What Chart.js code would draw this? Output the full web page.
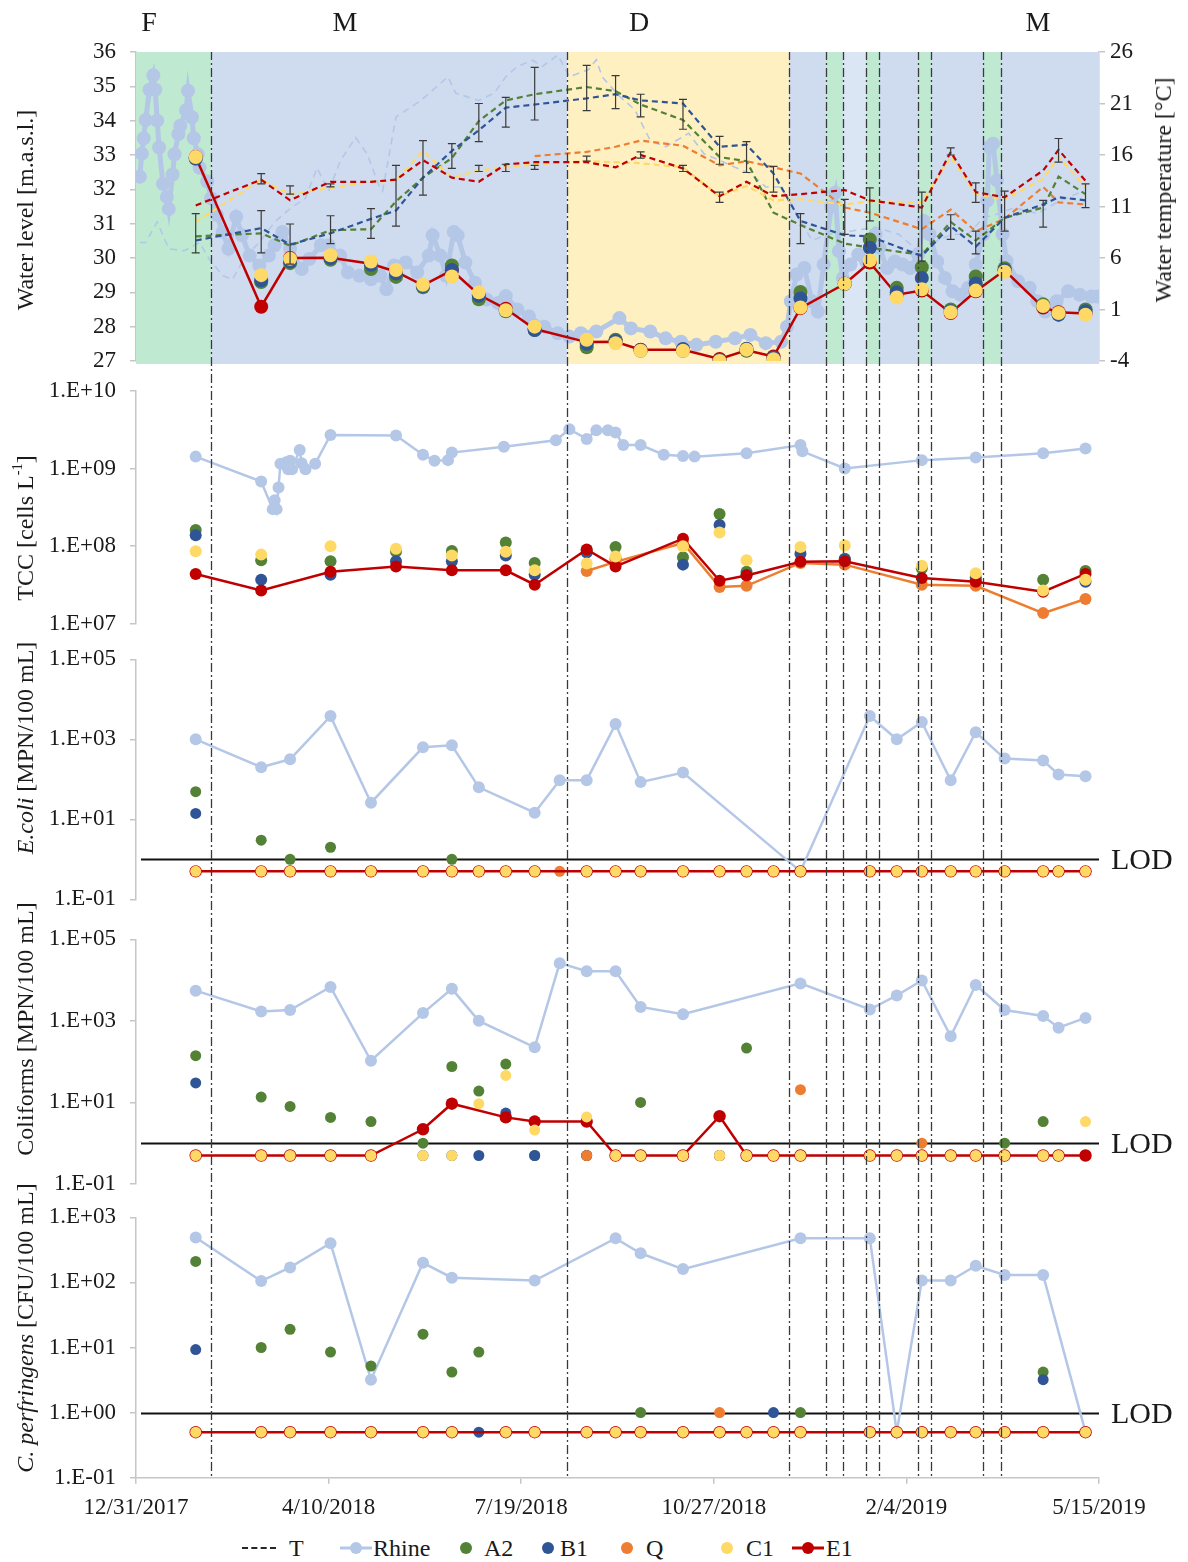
<!DOCTYPE html>
<html>
<head>
<meta charset="utf-8">
<title>Rhine and groundwater monitoring 2018-2019</title>
<script src="https://cdn.jsdelivr.net/npm/chart.js@4.4.1/dist/chart.umd.min.js"></script>
<style>
  html, body { margin: 0; padding: 0; background: #fff; }
  #page { position: relative; width: 1188px; height: 1562px; overflow: hidden;
          font-family: "Liberation Serif", "Times New Roman", serif; color: #1a1a1a; }
  #page canvas { position: absolute; left: 0; }
  .txt { position: absolute; white-space: nowrap; line-height: 1; transform: translate(-50%, -50%); }
  .phase { font-size: 28px; }
  .ytitle { position: absolute; white-space: nowrap; font-size: 24px; line-height: 1;
            transform: translate(-50%, -50%) rotate(-90deg); }
  .ytitle sup { font-size: 0.6em; vertical-align: 0.75em; line-height: 0; }
  .leg { position: absolute; white-space: nowrap; font-size: 24px; line-height: 1; transform: translateY(-50%); }
  .legdot { position: absolute; width: 12px; height: 12px; border-radius: 50%; transform: translate(-50%, -50%); }
  .legline { position: absolute; height: 3px; transform: translateY(-50%); }
  .legdash { position: absolute; height: 0; border-top: 2px dashed #262626; transform: translateY(-50%); }
</style>
</head>
<body>
<div id="page">
  <canvas id="c1" width="1188" height="376" style="top:0px"></canvas>
  <canvas id="c2" width="1188" height="264" style="top:376px"></canvas>
  <canvas id="c3" width="1188" height="280" style="top:640px"></canvas>
  <canvas id="c4" width="1188" height="280" style="top:920px"></canvas>
  <canvas id="c5" width="1188" height="320" style="top:1200px"></canvas>

  <div class="txt phase" style="left:149px;top:22px">F</div>
  <div class="txt phase" style="left:345px;top:22px">M</div>
  <div class="txt phase" style="left:639px;top:22px">D</div>
  <div class="txt phase" style="left:1038px;top:22px">M</div>

  <div class="ytitle" style="left:25px;top:210px">Water level [m.a.s.l.]</div>
  <div class="ytitle" style="left:1163px;top:190px">Water temperature [°C]</div>
  <div class="ytitle" style="left:25px;top:528px">TCC [cells L<sup>-1</sup>]</div>
  <div class="ytitle" style="left:25px;top:748px"><i>E.coli</i> [MPN/100 mL]</div>
  <div class="ytitle" style="left:25px;top:1029px">Coliforms [MPN/100 mL]</div>
  <div class="ytitle" style="left:25px;top:1328px"><i>C. perfringens</i> [CFU/100 mL]</div>

  <div id="legend"></div>
</div>

<script>
// x values are days after 12/31/2017
const day0 = Date.UTC(2017, 11, 31);
const xMin = 0, xMax = 500, xStep = 100;

// phase boundaries (F / M / D / M), flood windows, dash-dot markers
const phaseStart = [0, 39, 224, 339];
const phaseEnd = [39, 224, 339, 500];
const floodStart = [358, 379, 406, 440];
const floodEnd = [367, 386, 413, 449];
const recessionStart = [367];
const recessionEnd = [379];
const markerDays = [39, 224, 339, 358, 367, 379, 386, 406, 413, 440, 449];

// ---- water level / temperature panel ----
const rhineLevelDays = [2, 3, 4, 5, 7, 9, 10, 11, 12, 14, 16, 17, 19, 20, 22, 23, 26, 27, 29, 30,
  32, 33, 37, 39, 42, 45, 48, 52, 55, 59, 64, 69, 72, 76, 80, 86, 90, 96, 100, 106,
  110, 116, 122, 127, 130, 134, 140, 146, 152, 154, 158, 161, 165, 167, 171, 176, 182, 188, 192, 198,
  204, 212, 219, 225, 231, 239, 251, 257, 267, 275, 283, 291, 301, 311, 319, 327, 335, 338, 340, 343,
  347, 351, 354, 357, 361, 363, 365, 367, 371, 375, 379, 384, 386, 390, 394, 398, 402, 406, 409, 412,
  416, 420, 424, 428, 432, 436, 440, 442, 443, 445, 447, 450, 452, 458, 464, 468, 472, 478, 484, 490,
  496, 499];
const rhineLevel = [32.37, 33.04, 33.49, 34.02, 34.9, 35.32, 34.9, 34.0, 33.22, 32.16, 31.78, 31.43, 32.43, 33.02, 33.61, 33.85, 34.3, 34.87, 34.1, 33.49,
  33.02, 32.63, 32.23, 31.74, 31.25, 30.76, 30.27, 31.2, 30.66, 30.07, 29.78, 30.07, 30.37, 30.76, 30.27, 29.68, 29.97, 30.37, 30.37, 30.07,
  29.58, 29.48, 29.38, 29.48, 29.09, 29.78, 29.87, 29.58, 30.07, 30.66, 30.07, 29.48, 30.76, 30.66, 29.87, 29.28, 28.79, 28.69, 28.89, 28.5,
  28.3, 28.0, 27.81, 27.71, 27.81, 27.86, 28.25, 27.95, 27.86, 27.66, 27.56, 27.47, 27.56, 27.66, 27.76, 27.52, 27.56, 28.0, 28.74, 29.52,
  29.71, 28.74, 28.44, 29.81, 31.5, 31.9, 30.2, 29.42, 29.81, 30.1, 29.9, 30.69, 30.3, 29.71, 29.9, 29.81, 29.71, 30.1, 31.08, 30.69,
  29.9, 29.42, 29.03, 28.93, 29.13, 29.81, 30.69, 31.67, 33.23, 33.33, 32.26, 30.69, 29.91, 29.32, 29.13, 28.74, 28.44, 28.74, 29.03, 28.93,
  28.88, 28.88];

const rhineTempDays = [2, 5, 11, 17, 25, 33, 38, 45, 50, 57, 64, 72, 80, 88, 94, 100, 106, 114, 120, 126,
  128, 135, 148, 162, 166, 178, 186, 192, 198, 206, 211, 219, 225, 235, 239, 242, 251, 259, 267, 275,
  287, 295, 303, 311, 319, 327, 335, 343, 351, 359, 371, 384, 396, 408, 416, 424, 432, 440, 448, 456,
  468, 480, 492];
const rhineTemp = [7.5, 7.5, 9.5, 6.9, 6.7, 7.5, 5.9, 4.3, 3.9, 6.2, 7.5, 9.5, 10.8, 11.8, 14.75, 12.5, 15.4, 17.7, 16.1, 13.1,
  12.5, 19.7, 21.3, 23.6, 22.0, 21.3, 22.0, 23.6, 24.6, 25.2, 24.6, 25.7, 23.6, 24.3, 25.25, 23.6, 21.7, 20.4, 17.4, 16.8,
  18.1, 16.1, 15.5, 14.8, 14.2, 12.9, 12.9, 10.3, 7.7, 8.3, 8.6, 9.0, 8.3, 6.4, 7.7, 8.3, 8.3, 9.9, 10.3, 10.9,
  10.3, 11.6, 12.5];

// groundwater sampling days for levels and temperatures
const wellDays = [31, 65, 80, 101, 122, 135, 149, 164, 178, 192, 207, 234, 249, 262, 284, 303, 317, 331, 345, 368, 381, 395, 408, 423, 436, 451, 471, 479, 493];
const levelA2 = [32.9, 29.3, 29.85, 29.95, 29.68, 29.45, 29.15, 29.78, 28.8, 28.45, 27.9, 27.4, 27.62, 27.3, 27.3, 27.0, 27.3, 27.05, 29.01, 29.25, 30.54, 29.13, 29.73, 28.5, 29.46, 29.7, 28.65, 28.35, 28.5];
const levelB1 = [32.9, 29.35, 29.9, 30.0, 29.8, 29.55, 29.18, 29.65, 28.9, 28.48, 27.9, 27.5, 27.58, 27.32, 27.35, 27.03, 27.36, 27.1, 28.82, 29.25, 30.3, 29.0, 29.42, 28.45, 29.26, 29.65, 28.6, 28.35, 28.45];
const levelC1 = [32.94, 29.5, 29.98, 30.08, 29.9, 29.65, 29.22, 29.46, 29.0, 28.48, 28.0, 27.62, 27.52, 27.3, 27.3, 27.0, 27.33, 27.05, 28.56, 29.25, 29.93, 28.85, 29.09, 28.42, 29.05, 29.6, 28.6, 28.4, 28.35];
const levelE1 = [32.94, 28.58, 30.0, 30.01, 29.83, 29.6, 29.2, 29.64, 28.93, 28.52, 27.93, 27.55, 27.56, 27.33, 27.33, 27.06, 27.31, 27.13, 28.54, 29.25, 29.87, 28.93, 29.05, 28.4, 29.03, 29.64, 28.56, 28.42, 28.38];

const tempA2 = [8.1, 8.4, 7.2, 8.7, 8.8, 11.5, 13.8, 15.7, 19.3, 21.3, 21.9, 22.6, 22.2, 20.9, 19.4, 15.8, 15.4, 10.4, 9.2, 7.4, 7.0, null, 6.3, 9.5, 7.7, 9.9, 10.9, 13.9, 12.2];
const tempB1 = [7.7, 8.9, 7.3, 8.4, 9.8, 10.6, 13.8, 16.4, 18.4, 20.6, 20.9, 21.5, 21.9, 21.3, 21.0, 16.8, 17.0, 14.2, 9.6, 8.2, 8.1, null, 6.2, 9.1, 7.1, 9.9, 11.2, 11.9, 11.6];
const tempQ = [null, null, null, null, null, null, null, null, null, null, 15.9, 16.3, 16.8, 17.4, 16.9, 15.0, 15.4, 14.8, 14.2, 10.9, 10.4, null, 8.8, 10.7, 8.6, 9.8, 12.9, 11.4, 11.2];
const tempC1 = [9.5, 13.6, 12.2, 12.8, 13.4, 13.5, 16.4, 13.8, 14.5, 14.8, 15.1, 15.4, 15.3, 15.2, 14.8, 12.0, 13.0, 11.6, 11.7, 11.2, 11.5, null, 11.4, 15.8, 12.2, 11.7, 13.7, 15.8, 12.9];
const tempE1 = [11.1, 13.6, 11.6, 13.4, 13.4, 13.6, 15.5, 13.8, 13.4, 15.1, 15.3, 15.3, 14.8, 16.0, 14.7, 12.0, 13.4, 12.0, 12.2, 12.6, 11.6, null, 10.9, 16.3, 12.4, 11.9, 14.5, 16.5, 13.5];

// temperature spread (min / max) per sampling day
const spreadDays = [31, 65, 80, 101, 122, 135, 149, 164, 178, 192, 207, 234, 249, 262, 284, 303, 317, 331, 345, 368, 381, 408, 423, 436, 451, 471, 479, 493];
const spreadLo = [6.5, 6.5, 5.4, 7.4, 7.9, 9.1, 12.1, 14.7, 17.3, 18.7, 19.4, 20.3, 20.5, 19.7, 18.5, 15.1, 14.3, 12.4, 7.4, 8.3, 9.6, 5.7, 7.8, 6.4, 8.6, 9.0, 15.3, 10.9];
const spreadHi = [10.3, 10.6, 9.3, 10.1, 10.8, 15.0, 17.4, 17.1, 21.0, 21.6, 24.5, 24.7, 23.7, 21.9, 21.4, 17.8, 17.3, 14.9, 10.3, 11.7, 12.8, 12.4, 10.2, 8.6, 12.5, 11.6, 17.6, 13.2];
const shallowDays = [65, 80, 101, 178, 192, 207, 234, 262, 284, 303, 423, 436];
const shallowLo = [13.2, 12.2, 12.9, 14.4, 14.4, 14.6, 15.4, 15.7, 14.4, 11.4, 16.0, 11.4];
const shallowHi = [14.2, 13.0, 13.2, 15.0, 15.1, 15.0, 15.9, 16.3, 15.0, 12.4, 16.7, 13.3];

// ---- total cell count ----
const tccTicks = [1e7, 1e8, 1e9, 1e10];
const rhineTccDays = [31, 65, 71, 72, 73, 74, 75, 78, 79, 80, 81, 85, 86, 88, 93, 101, 135, 149, 155, 162, 164, 191, 218, 225, 234, 239, 245, 249, 253, 262, 274, 284, 290, 317, 345, 346, 368, 408, 436, 471, 493];
const rhineTcc = [1.42e9, 6.8e8, 3.0e8, 3.9e8, 3.0e8, 5.7e8, 1.15e9, 1.2e9, 9.8e8, 1.26e9, 9.8e8, 1.73e9, 1.17e9, 9.8e8, 1.15e9, 2.7e9, 2.65e9, 1.5e9, 1.26e9, 1.28e9, 1.6e9, 1.9e9, 2.3e9, 3.2e9, 2.4e9, 3.1e9, 3.1e9, 2.9e9, 2.0e9, 2.0e9, 1.5e9, 1.45e9, 1.42e9, 1.57e9, 2.0e9, 1.66e9, 1.0e9, 1.28e9, 1.38e9, 1.57e9, 1.8e9];
const tccDays = [31, 65, 101, 135, 164, 192, 207, 234, 249, 284, 303, 317, 345, 368, 408, 436, 471, 493];
const tccA2 = [1.62e8, 6.6e7, 6.4e7, 8.5e7, 8.7e7, 1.12e8, 6.1e7, 8.8e7, 9.8e7, 7.2e7, 2.6e8, 4.7e7, null, 6.9e7, 5.2e7, 4.0e7, 3.7e7, 4.8e7];
const tccB1 = [1.38e8, 3.7e7, 4.3e7, 6.4e7, 6.4e7, 7.6e7, 4.3e7, 8.3e7, 6.9e7, 5.8e7, 1.87e8, 4.3e7, 8.0e7, 6.8e7, null, 3.7e7, null, 3.5e7];
const tccQ = [null, null, null, null, null, null, null, 4.8e7, 6.3e7, 1.1e8, 3.0e7, 3.1e7, 6.1e7, 5.8e7, 3.2e7, 3.1e7, 1.38e7, 2.1e7];
const tccC1 = [8.6e7, 7.8e7, 1.0e8, 9.3e7, 7.6e7, 8.5e7, 4.9e7, 6.0e7, 7.4e7, 1.0e8, 1.5e8, 6.6e7, 9.8e7, 1.02e8, 5.6e7, 4.5e7, 2.7e7, 3.7e7];
const tccE1 = [4.4e7, 2.7e7, 4.7e7, 5.5e7, 4.9e7, 4.9e7, 3.2e7, 9.1e7, 5.5e7, 1.25e8, 3.6e7, 4.2e7, 6.3e7, 6.4e7, 3.9e7, 3.5e7, 2.6e7, 4.4e7];

// ---- faecal indicators (values below LOD plotted at 0.5) ----
const lodValue = 1;
const microTicks = [0.1, 10, 1000, 1e5];
const perfTicks = [0.1, 1, 10, 100, 1000];
const microDays = [31, 65, 80, 101, 122, 149, 164, 178, 192, 207, 220, 234, 249, 262, 284, 303, 317, 331, 345, 381, 395, 408, 423, 436, 451, 471, 479, 493];

const ecoliRhineDays = [31, 65, 80, 101, 122, 149, 164, 178, 207, 220, 234, 249, 262, 284, 345, 381, 395, 408, 423, 436, 451, 471, 479, 493];
const ecoliRhine = [1000, 200, 316, 3800, 26, 630, 710, 63, 14.6, 95, 95, 2400, 85, 148, 0.5, 3800, 1000, 2700, 95, 1500, 330, 295, 132, 120];
const ecoliA2 = [49, 3.0, 1.0, 2.0, 0.5, 0.5, 1.0, 0.5, 0.5, 0.5, null, 0.5, 0.5, 0.5, 0.5, 0.5, 0.5, 0.5, 0.5, 0.5, 0.5, 0.5, 0.5, 0.5, 0.5, 0.5, 0.5, 0.5];
const ecoliB1 = [14, 0.5, 0.5, 0.5, 0.5, 0.5, 0.5, 0.5, 0.5, 0.5, null, 0.5, 0.5, 0.5, 0.5, 0.5, 0.5, 0.5, 0.5, 0.5, 0.5, 0.5, 0.5, 0.5, 0.5, 0.5, 0.5, 0.5];
const ecoliQ = [null, null, null, null, null, null, null, null, null, null, 0.5, 0.5, 0.5, 0.5, 0.5, 0.5, 0.5, 0.5, 0.5, 0.5, 0.5, 0.5, 0.5, 0.5, 0.5, 0.5, 0.5, 0.5];
const ecoliC1 = [0.5, 0.5, 0.5, 0.5, 0.5, 0.5, 0.5, 0.5, 0.5, 0.5, null, 0.5, 0.5, 0.5, 0.5, 0.5, 0.5, 0.5, 0.5, 0.5, 0.5, 0.5, 0.5, 0.5, 0.5, 0.5, 0.5, 0.5];
const ecoliE1 = [0.5, 0.5, 0.5, 0.5, 0.5, 0.5, 0.5, 0.5, 0.5, 0.5, null, 0.5, 0.5, 0.5, 0.5, 0.5, 0.5, 0.5, 0.5, 0.5, 0.5, 0.5, 0.5, 0.5, 0.5, 0.5, 0.5, 0.5];

const colRhineDays = [31, 65, 80, 101, 122, 149, 164, 178, 207, 220, 234, 249, 262, 284, 345, 381, 395, 408, 423, 436, 451, 471, 479, 493];
const colRhine = [5500, 1700, 1850, 6800, 105, 1550, 6100, 1000, 225, 26000, 16500, 16500, 2200, 1450, 8300, 1900, 4200, 9800, 420, 7600, 1850, 1320, 680, 1180];
const colA2 = [140, 13.5, 8, 4.3, 3.4, 1.0, 76, 19, 87, 0.5, null, 0.5, 0.5, 10, 0.5, 0.5, 215, 0.5, 0.5, 0.5, 0.5, 0.5, 0.5, 0.5, 1.0, 3.4, 0.5, 0.5];
const colB1 = [30, 0.5, 0.5, 0.5, 0.5, 0.5, 0.5, 0.5, 5.5, 0.5, null, 0.5, 0.5, 0.5, 0.5, 0.5, 0.5, 0.5, 0.5, 0.5, 0.5, 0.5, 0.5, 0.5, 0.5, 0.5, 0.5, 0.5];
const colQ = [null, null, null, null, null, null, null, null, null, null, null, 0.5, 0.5, 0.5, 0.5, 0.5, 0.5, 0.5, 20.5, 0.5, 0.5, 1.0, 0.5, 0.5, 0.5, 0.5, 0.5, 0.5];
const colC1 = [0.5, 0.5, 0.5, 0.5, 0.5, 0.5, 0.5, 9.3, 46, 2.1, null, 4.4, 0.5, 0.5, 0.5, 0.5, 0.5, 0.5, 0.5, 0.5, 0.5, 0.5, 0.5, 0.5, 0.5, 0.5, 0.5, 3.4];
const colE1 = [0.5, 0.5, 0.5, 0.5, 0.5, 2.2, 9.3, null, 4.3, 3.4, null, 3.4, 0.5, 0.5, 0.5, 4.6, 0.5, 0.5, 0.5, 0.5, 0.5, 0.5, 0.5, 0.5, 0.5, 0.5, 0.5, 0.5];

const perfRhineDays = [31, 65, 80, 101, 122, 149, 164, 207, 249, 262, 284, 345, 381, 395, 408, 423, 436, 451, 471, 493];
const perfRhine = [490, 105, 170, 400, 3.2, 200, 118, 107, 475, 280, 160, 475, 475, 0.5, 107, 107, 180, 130, 130, 0.5];
const perfA2 = [210, 10, 19, 8.5, 5.2, 16, 4.2, 8.5, 0.5, 0.5, null, 0.5, 0.5, 1.0, 0.5, 0.5, 0.5, 0.5, 1.0, 0.5, 0.5, 0.5, 0.5, 0.5, 0.5, 4.2, null, 0.5];
const perfB1 = [9.3, 0.5, 0.5, 0.5, 0.5, 0.5, 0.5, 0.5, 0.5, 0.5, null, 0.5, 0.5, 0.5, 0.5, 0.5, 0.5, 1.0, 0.5, 0.5, 0.5, 0.5, 0.5, 0.5, 0.5, 3.2, null, 0.5];
const perfQ = [null, null, null, null, null, null, null, null, null, null, null, 0.5, 0.5, 0.5, 0.5, 1.0, 0.5, 0.5, 0.5, 0.5, 0.5, 0.5, 0.5, 0.5, 0.5, 0.5, null, 0.5];
const perfC1 = [0.5, 0.5, 0.5, 0.5, 0.5, 0.5, 0.5, null, 0.5, 0.5, null, 0.5, 0.5, 0.5, 0.5, 0.5, 0.5, 0.5, 0.5, 0.5, 0.5, 0.5, 0.5, 0.5, 0.5, 0.5, null, 0.5];
const perfE1 = [0.5, 0.5, 0.5, 0.5, 0.5, 0.5, 0.5, null, 0.5, 0.5, null, 0.5, 0.5, 0.5, 0.5, 0.5, 0.5, 0.5, 0.5, 0.5, 0.5, 0.5, 0.5, 0.5, 0.5, 0.5, null, 0.5];

// colours
const rhineColor = '#b4c7e7';
const colorA2 = '#538135', colorB1 = '#2f5597', colorQ = '#ed7d31', colorC1 = '#ffd966', colorE1 = '#c00000';
const phaseColor = ['#bfe9d0', '#cfdcef', '#fff0c2', '#cfdcef'];
const floodColor = '#bfe9d0';
const recessionColor = '#dbe6f4';
const inkColor = '#1a1a1a';
const axisGray = '#c6c6c6';
const tickFont = { family: 'Liberation Serif', size: 23 };

function dayLabel(d) {
  const t = new Date(day0 + d * 86400000);
  return (t.getUTCMonth() + 1) + '/' + t.getUTCDate() + '/' + t.getUTCFullYear();
}
function sci(v) {
  const e = Math.round(Math.log10(v));
  return '1.E' + (e < 0 ? '-' : '+') + String(Math.abs(e)).padStart(2, '0');
}
function pts(days, vals) {
  const out = [];
  days.forEach((d, i) => { if (vals[i] != null) out.push({ x: d, y: vals[i] }); });
  return out;
}

// dataset builders
function dots(label, days, vals, color, r, order, axis) {
  return { label, data: pts(days, vals), showLine: false, pointRadius: r, pointHoverRadius: r,
    pointBackgroundColor: color, pointBorderWidth: 0, borderColor: color, order, yAxisID: axis || 'y' };
}
function joined(label, days, vals, color, r, width, order, axis) {
  return { label, data: pts(days, vals), showLine: true, spanGaps: true, borderColor: color, borderWidth: width,
    pointRadius: r, pointHoverRadius: r, pointBackgroundColor: color, pointBorderWidth: 0, order, yAxisID: axis || 'y' };
}
function dashed(label, days, vals, color, width, dash, order) {
  return { label, data: pts(days, vals), showLine: true, spanGaps: true, borderColor: color, borderWidth: width,
    borderDash: dash, pointRadius: 0, order, yAxisID: 'y2' };
}

// axes; label overhang is left to the layout padding so every panel keeps the same plot box
const hiddenX = { type: 'linear', min: xMin, max: xMax, display: false };
function sideGrid() {
  return { drawOnChartArea: false, drawTicks: true, tickLength: 6, color: axisGray, lineWidth: 1.5 };
}
function fixWidth(width) {
  return s => { s.width = width; s.paddingTop = 0; s.paddingBottom = 0; };
}
function linearY(min, max, step, position, width, pad) {
  return {
    type: 'linear', position, min, max,
    border: { display: true, color: axisGray, width: 1.5 },
    grid: sideGrid(),
    ticks: { stepSize: step, font: tickFont, color: inkColor, padding: pad },
    afterFit: fixWidth(width)
  };
}
function logY(min, max, tickVals) {
  return {
    type: 'logarithmic', position: 'left', min, max,
    border: { display: true, color: axisGray, width: 1.5 },
    grid: sideGrid(),
    ticks: { font: tickFont, color: inkColor, padding: 14, autoSkip: false, callback: v => sci(v) },
    afterBuildTicks: s => { s.ticks = tickVals.map(v => ({ value: v })); },
    afterFit: fixWidth(136)
  };
}

// dash-dot period markers, phase aligned across the stacked canvases
function markerLines(canvasTop, fromArea, toArea) {
  return {
    id: 'markers',
    afterDraw(chart) {
      const { ctx, chartArea: a, scales: { x } } = chart;
      const y0 = fromArea ? a.top : 0;
      const y1 = toArea ? a.bottom : chart.height;
      ctx.save();
      ctx.strokeStyle = '#3a3a3a';
      ctx.lineWidth = 1.3;
      ctx.setLineDash([9, 3, 2, 3]);
      ctx.lineDashOffset = canvasTop + y0;
      markerDays.forEach(d => {
        const px = Math.round(x.getPixelForValue(d)) + 0.5;
        ctx.beginPath();
        ctx.moveTo(px, y0);
        ctx.lineTo(px, y1);
        ctx.stroke();
      });
      ctx.restore();
    }
  };
}

const phaseBands = {
  id: 'phaseBands',
  beforeDatasetsDraw(chart) {
    const { ctx, chartArea: a, scales: { x } } = chart;
    ctx.save();
    const fill = (d0, d1, color) => {
      const x0 = x.getPixelForValue(d0), x1 = x.getPixelForValue(d1);
      ctx.fillStyle = color;
      ctx.fillRect(x0, a.top, x1 - x0, a.bottom - a.top + 3);
    };
    phaseStart.forEach((d, i) => fill(d, phaseEnd[i], phaseColor[i]));
    floodStart.forEach((d, i) => fill(d, floodEnd[i], floodColor));
    recessionStart.forEach((d, i) => fill(d, recessionEnd[i], recessionColor));
    ctx.restore();
  }
};

const spreadBars = {
  id: 'spreadBars',
  afterDatasetsDraw(chart) {
    const { ctx, scales: { x, y2 } } = chart;
    ctx.save();
    ctx.strokeStyle = '#3a3a3a';
    ctx.lineWidth = 1.2;
    const draw = (days, lo, hi) => days.forEach((d, i) => {
      const px = x.getPixelForValue(d);
      const p0 = y2.getPixelForValue(lo[i]), p1 = y2.getPixelForValue(hi[i]);
      ctx.beginPath();
      ctx.moveTo(px, p0); ctx.lineTo(px, p1);
      ctx.moveTo(px - 4, p0); ctx.lineTo(px + 4, p0);
      ctx.moveTo(px - 4, p1); ctx.lineTo(px + 4, p1);
      ctx.stroke();
    });
    draw(spreadDays, spreadLo, spreadHi);
    draw(shallowDays, shallowLo, shallowHi);
    ctx.restore();
  }
};

// limit of detection line with its label
const lodLine = {
  id: 'lodLine',
  beforeDatasetsDraw(chart) {
    const { ctx, chartArea: a, scales: { y } } = chart;
    const py = Math.round(y.getPixelForValue(lodValue)) + 0.5;
    ctx.save();
    ctx.strokeStyle = '#111';
    ctx.lineWidth = 2;
    ctx.beginPath();
    ctx.moveTo(a.left + 5, py);
    ctx.lineTo(a.right, py);
    ctx.stroke();
    ctx.fillStyle = inkColor;
    ctx.font = '30px "Liberation Serif"';
    ctx.textBaseline = 'middle';
    ctx.fillText('LOD', a.right + 12, py + 2);
    ctx.restore();
  }
};

function baseOptions(padding, scales) {
  return {
    responsive: false, animation: false, devicePixelRatio: 1, events: [],
    layout: { padding },
    plugins: { legend: { display: false }, tooltip: { enabled: false } },
    scales
  };
}

// panel 1: water level (left) and temperature (right)
new Chart(document.getElementById('c1'), {
  type: 'scatter',
  data: {
    datasets: [
      dashed('Rhine T', rhineTempDays, rhineTemp, rhineColor, 1.6, [7, 5], 30),
      joined('Rhine', rhineLevelDays, rhineLevel, rhineColor, 7, 5, 25),
      dashed('Q T', wellDays, tempQ, colorQ, 2.2, [6, 4], 17),
      dashed('A2 T', wellDays, tempA2, colorA2, 2.2, [6, 4], 16),
      dashed('B1 T', wellDays, tempB1, colorB1, 2.2, [6, 4], 15),
      dashed('C1 T', wellDays, tempC1, colorC1, 2.2, [6, 4], 14),
      dashed('E1 T', wellDays, tempE1, colorE1, 2.2, [6, 4], 13),
      joined('E1', wellDays, levelE1, colorE1, 7, 2.5, 4),
      dots('A2', wellDays, levelA2, colorA2, 7, 3),
      dots('B1', wellDays, levelB1, colorB1, 7, 2),
      dots('C1', wellDays, levelC1, colorC1, 7, 1)
    ]
  },
  options: baseOptions({ left: 0, right: 0, top: 52, bottom: 15 }, {
    x: hiddenX,
    y: linearY(27, 36, 1, 'left', 136, 14),
    y2: linearY(-4, 26, 5, 'right', 89, 5)
  }),
  plugins: [phaseBands, spreadBars, markerLines(0, true, false)]
});

// panel 2: total cell count
new Chart(document.getElementById('c2'), {
  type: 'scatter',
  data: {
    datasets: [
      joined('Rhine', rhineTccDays, rhineTcc, rhineColor, 6, 2.5, 10),
      dots('A2', tccDays, tccA2, colorA2, 6, 5),
      dots('B1', tccDays, tccB1, colorB1, 6, 4),
      joined('Q', tccDays, tccQ, colorQ, 6, 2.5, 3),
      joined('E1', tccDays, tccE1, colorE1, 6, 2.5, 2),
      dots('C1', tccDays, tccC1, colorC1, 6, 1)
    ]
  },
  options: baseOptions({ left: 0, right: 89, top: 14.7, bottom: 16 }, {
    x: hiddenX,
    y: logY(1e7, 1e10, tccTicks)
  }),
  plugins: [markerLines(376, false, false)]
});

function microPanel(id, padding, rhineDays, rhine, a2, b1, q, c1, e1, ticks, yMax, xAxis, markers) {
  return new Chart(document.getElementById(id), {
    type: 'scatter',
    data: {
      datasets: [
        joined('Rhine', rhineDays, rhine, rhineColor, 6, 2.5, 10),
        dots('A2', microDays, a2, colorA2, 5.5, 5),
        dots('B1', microDays, b1, colorB1, 5.5, 4),
        dots('Q', microDays, q, colorQ, 5.5, 3),
        joined('E1', microDays, e1, colorE1, 6.2, 2.5, 2),
        dots('C1', microDays, c1, colorC1, 5.5, 1)
      ]
    },
    options: baseOptions(padding, { x: xAxis, y: logY(0.1, yMax, ticks) }),
    plugins: [lodLine, markers]
  });
}

// panel 3: E. coli
microPanel('c3', { left: 0, right: 89, top: 19.3, bottom: 20.7 },
  ecoliRhineDays, ecoliRhine, ecoliA2, ecoliB1, ecoliQ, ecoliC1, ecoliE1, microTicks, 1e5,
  hiddenX, markerLines(640, false, false));

// panel 4: coliforms
microPanel('c4', { left: 0, right: 89, top: 19.3, bottom: 16 },
  colRhineDays, colRhine, colA2, colB1, colQ, colC1, colE1, microTicks, 1e5,
  hiddenX, markerLines(920, false, false));

// panel 5: C. perfringens, carries the date axis
const dateAxis = {
  type: 'linear', position: 'bottom', min: xMin, max: xMax,
  border: { display: true, color: axisGray, width: 1.5 },
  grid: { drawOnChartArea: false, drawTicks: true, tickLength: 6, color: axisGray, lineWidth: 1.5 },
  ticks: { stepSize: xStep, autoSkip: false, maxRotation: 0, font: tickFont, color: inkColor, padding: 10,
    callback: v => dayLabel(v) },
  afterFit: s => { s.height = 42.3; s.paddingLeft = 0; s.paddingRight = 0; }
};
microPanel('c5', { left: 0, right: 89, top: 17.3, bottom: 0 },
  perfRhineDays, perfRhine, perfA2, perfB1, perfQ, perfC1, perfE1, perfTicks, 1000,
  dateAxis, markerLines(1200, false, true));

// legend row
const legendY = 1548;
const legendItems = [
  { text: 'T', kind: 'dash', color: '#262626', from: 242, to: 276, textX: 289 },
  { text: 'Rhine', kind: 'line', color: rhineColor, from: 340, to: 372, textX: 373 },
  { text: 'A2', kind: 'dot', color: colorA2, at: 466, textX: 484 },
  { text: 'B1', kind: 'dot', color: colorB1, at: 548, textX: 560 },
  { text: 'Q', kind: 'dot', color: colorQ, at: 627, textX: 646 },
  { text: 'C1', kind: 'dot', color: colorC1, at: 727, textX: 746 },
  { text: 'E1', kind: 'line', color: colorE1, from: 792, to: 824, textX: 826 }
];
const legend = document.getElementById('legend');
legendItems.forEach(item => {
  if (item.kind === 'dash') {
    const el = document.createElement('div');
    el.className = 'legdash';
    el.style.cssText = `left:${item.from}px;top:${legendY}px;width:${item.to - item.from}px;`;
    legend.appendChild(el);
  }
  if (item.kind === 'line') {
    const el = document.createElement('div');
    el.className = 'legline';
    el.style.cssText = `left:${item.from}px;top:${legendY}px;width:${item.to - item.from}px;background:${item.color};`;
    legend.appendChild(el);
    item.at = (item.from + item.to) / 2;
  }
  if (item.kind !== 'dash') {
    const dot = document.createElement('div');
    dot.className = 'legdot';
    dot.style.cssText = `left:${item.at}px;top:${legendY}px;background:${item.color};`;
    legend.appendChild(dot);
  }
  const label = document.createElement('div');
  label.className = 'leg';
  label.style.cssText = `left:${item.textX}px;top:${legendY}px;`;
  label.textContent = item.text;
  legend.appendChild(label);
});
</script>
</body>
</html>
